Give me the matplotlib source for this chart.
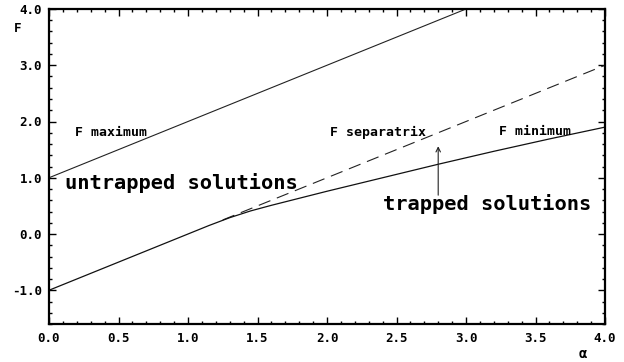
import matplotlib
matplotlib.use("Agg")
import matplotlib.pyplot as plt
from matplotlib.ticker import MultipleLocator, FormatStrFormatter

plt.rcParams['lines.scale_dashes'] = False

# Data
alpha_max = [0.0, 3.0]
F_max = [1.0, 4.0]

alpha_sep = [1.25, 4.0]
F_sep = [0.25, 3.0]

alpha_min = [0.0, 1.0, 1.15, 1.3, 1.45, 1.6, 2.0, 2.4, 2.8, 3.2, 3.6, 4.0]
F_min = [-1.0, 0.0, 0.15, 0.29, 0.41, 0.51, 0.76, 1.00, 1.24, 1.47, 1.69, 1.90]

arrow_alpha = 2.8
arrow_from = 0.69
arrow_to = 1.56

font = 'DejaVu Sans Mono'

fig = plt.figure(figsize=(6.24, 3.62), dpi=100)
ax = fig.add_axes([49/624, 38/362, 556/624, 315/362])

ax.plot(alpha_max, F_max, color='#222222', lw=0.8)
ax.plot(alpha_sep, F_sep, color='#222222', lw=0.8, dashes=(9, 5))
ax.plot(alpha_min, F_min, color='#111111', lw=0.9)

ax.annotate('', xy=(arrow_alpha, arrow_to), xytext=(arrow_alpha, arrow_from),
            arrowprops=dict(arrowstyle='->', color='#222222', lw=0.8,
                            shrinkA=0, shrinkB=0, mutation_scale=8))

ax.set_xlim(0, 4.0)
ax.set_ylim(-1.6, 4.0)
ax.xaxis.set_major_locator(MultipleLocator(0.5))
ax.xaxis.set_minor_locator(MultipleLocator(0.1))
ax.yaxis.set_major_locator(MultipleLocator(1.0))
ax.yaxis.set_minor_locator(MultipleLocator(0.2))
ax.xaxis.set_major_formatter(FormatStrFormatter('%.1f'))
ax.yaxis.set_major_formatter(FormatStrFormatter('%.1f'))

ax.tick_params(which='both', direction='in', top=True, right=True, width=1.0, color='black')
ax.tick_params(which='major', length=5)
ax.tick_params(which='minor', length=2.5)
ax.tick_params(axis='x', which='major', pad=6)
ax.tick_params(axis='y', which='major', pad=5)
for lab in ax.get_xticklabels() + ax.get_yticklabels():
    lab.set_family(font)
    lab.set_fontweight('bold')
    lab.set_fontsize(9)
for s in ax.spines.values():
    s.set_linewidth(1.6)

fig.text(14/624, 1 - 29/362, 'F', family=font, fontweight='bold', fontsize=9,
         ha='left', va='center')
fig.text(583/624, 1 - 354/362, 'α', family=font, fontweight='bold', fontsize=10,
         ha='center', va='center')

ax.text(0.19, 1.8, 'F maximum', family=font, fontweight='bold', fontsize=9.5,
        ha='left', va='center')
ax.text(2.02, 1.8, 'F separatrix', family=font, fontweight='bold', fontsize=9.5,
        ha='left', va='center')
ax.text(3.24, 1.83, 'F minimum', family=font, fontweight='bold', fontsize=9.5,
        ha='left', va='center')
ax.text(0.115, 0.9, 'untrapped solutions', family=font, fontweight='bold', fontsize=14.7,
        ha='left', va='center')
ax.text(2.4, 0.53, 'trapped solutions', family=font, fontweight='bold', fontsize=14.7,
        ha='left', va='center')

fig.savefig('out.png', dpi=100)
